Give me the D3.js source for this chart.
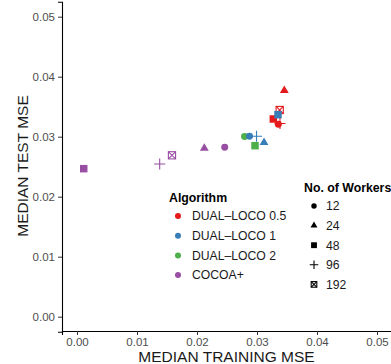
<!DOCTYPE html>
<html>
<head>
<meta charset="utf-8">
<script src="https://cdn.jsdelivr.net/npm/d3@7"></script>
<style>
  body { margin: 0; background: #fff; }
  text { font-family: "Liberation Sans", Arial, sans-serif; }
</style>
</head>
<body>
<div id="chart"></div>
<script>
// data
const algorithms = ['DUAL\u2013LOCO 0.5', 'DUAL\u2013LOCO 1', 'DUAL\u2013LOCO 2', 'COCOA+'];
const algoColors = ['#E41A1C', '#377EB8', '#4DAF4A', '#984EA3'];
const workers = [12, 24, 48, 96, 192];
const xTicks = [0, 0.01, 0.02, 0.03, 0.04, 0.05];
const yTicks = [0, 0.01, 0.02, 0.03, 0.04, 0.05];

// [algorithm index, workers, training MSE, test MSE]
const dualLoco2 = [[2, 12, 0.02792, 0.03003], [2, 48, 0.02967, 0.02850]];
const dualLoco05 = [[0, 12, 0.03355, 0.03207], [0, 24, 0.03455, 0.03770], [0, 48, 0.03272, 0.03295],
                    [0, 96, 0.03383, 0.03220], [0, 192, 0.03378, 0.03445]];
const dualLoco1 = [[1, 12, 0.02875, 0.03007], [1, 24, 0.03117, 0.02903], [1, 48, 0.03350, 0.03367],
                   [1, 96, 0.02992, 0.03007]];
const cocoa = [[3, 12, 0.02462, 0.02823], [3, 24, 0.02122, 0.02807], [3, 48, 0.00112, 0.02467],
               [3, 96, 0.01378, 0.02545], [3, 192, 0.01583, 0.02690]];

const points = [...dualLoco2, ...dualLoco05, ...dualLoco1, ...cocoa]
  .map(d => ({ algo: d[0], workers: d[1], train: d[2], test: d[3] }));

const W = 391, H = 364;
const svg = d3.select('#chart').append('svg').attr('width', W).attr('height', H);

const x = d3.scaleLinear().domain([-0.0025, 0.0525]).range([62, 392]);
const y = d3.scaleLinear().domain([-0.0025, 0.0525]).range([331.7, 1.7]);

// axes
const xAxis = svg.append('g').attr('transform', 'translate(0,331)')
  .call(d3.axisBottom(x).tickValues(xTicks).tickFormat(d3.format('.2f')).tickSizeOuter(0).tickSize(4).tickPadding(3));
const yAxis = svg.append('g').attr('transform', 'translate(62,0)')
  .call(d3.axisLeft(y).tickValues(yTicks).tickFormat(d3.format('.2f')).tickSizeOuter(0).tickSize(4).tickPadding(3));
[xAxis, yAxis].forEach(g => {
  g.select('.domain').attr('stroke', '#000').attr('stroke-width', 1.1);
  g.selectAll('.tick line').attr('stroke', '#333');
  g.selectAll('.tick text').attr('fill', '#4d4d4d').style('font-size', '11.5px')
    .style('font-family', '"Liberation Sans", Arial, sans-serif');
});

svg.append('text').attr('x', 226.5).attr('y', 362)
  .attr('text-anchor', 'middle').style('font-size', '15.5px').attr('fill', '#1a1a1a')
  .text('MEDIAN TRAINING MSE');
svg.append('text').attr('transform', 'translate(27.5,166) rotate(-90)')
  .attr('text-anchor', 'middle').style('font-size', '15.5px').attr('fill', '#1a1a1a')
  .text('MEDIAN TEST MSE');

// shape drawing
function drawShape(g, w, color, s) {
  if (w === 12) {
    g.append('path').attr('d', d3.symbol(d3.symbolCircle, 38 * s * s)()).attr('fill', color);
  } else if (w === 24) {
    g.append('path').attr('d', d3.symbol(d3.symbolTriangle, 34 * s * s)()).attr('fill', color);
  } else if (w === 48) {
    g.append('path').attr('d', d3.symbol(d3.symbolSquare, 56 * s * s)()).attr('fill', color);
  } else if (w === 96) {
    const r = 5.5 * s;
    g.append('path').attr('d', `M${-r},0H${r}M0,${-r}V${r}`)
      .attr('stroke', color).attr('stroke-width', 1.1).attr('fill', 'none');
  } else {
    const r = 3.6 * s;
    g.append('rect').attr('x', -r).attr('y', -r).attr('width', 2 * r).attr('height', 2 * r)
      .attr('stroke', color).attr('stroke-width', 1.1).attr('fill', 'none');
    g.append('path').attr('d', `M${-r},${-r}L${r},${r}M${-r},${r}L${r},${-r}`)
      .attr('stroke', color).attr('stroke-width', 1.1).attr('fill', 'none');
  }
}

svg.append('g').selectAll('g').data(points).join('g')
  .attr('transform', d => `translate(${x(d.train)},${y(d.test)})`)
  .each(function(d) { drawShape(d3.select(this), d.workers, algoColors[d.algo], 1); });

// legend: algorithm
const legA = svg.append('g');
legA.append('text').attr('x', 169).attr('y', 201.5).style('font-size', '12.3px')
  .style('font-weight', 'bold').attr('fill', '#000').text('Algorithm');
algorithms.forEach((a, i) => {
  const cy = 216 + i * 19.7;
  legA.append('circle').attr('cx', 178).attr('cy', cy).attr('r', 3).attr('fill', algoColors[i]);
  legA.append('text').attr('x', 192).attr('y', cy + 4.3).style('font-size', '12.2px')
    .attr('fill', '#1a1a1a').text(a);
});

// legend: workers
const legW = svg.append('g');
legW.append('text').attr('x', 304).attr('y', 191.5).style('font-size', '12.3px')
  .style('font-weight', 'bold').attr('fill', '#000').text('No. of Workers');
workers.forEach((w, i) => {
  const cy = 206 + i * 19.6;
  const g = legW.append('g').attr('transform', `translate(314,${cy})`);
  drawShape(g, w, '#000', 0.78);
  legW.append('text').attr('x', 326).attr('y', cy + 4.3).style('font-size', '12.2px')
    .attr('fill', '#1a1a1a').text(w);
});
</script>
</body>
</html>
